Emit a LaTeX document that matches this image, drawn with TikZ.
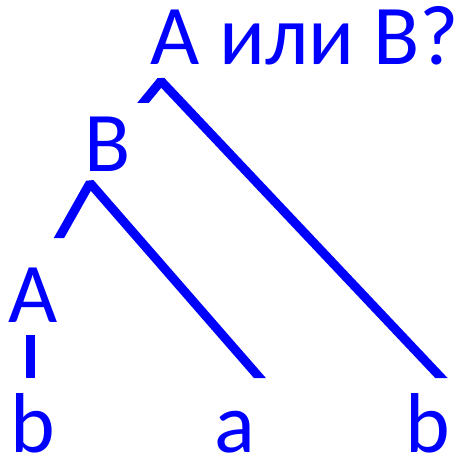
\documentclass[tikz,border=0pt]{standalone}
\usepackage{fontspec}
\setmainfont{Carlito}
\usetikzlibrary{positioning}

\begin{document}
\begin{tikzpicture}[
        x=1pt, y=-1pt,
        word/.style={text=blue, inner sep=0pt, anchor=base, font=\fontsize{85}{100}\selectfont},
        branch/.style={draw=blue, line width=9pt, line join=bevel}
    ]
        \useasboundingbox (0,0) rectangle (463,457);

        % labels
        \node[word] (question) at (305,65) {A или B?};
        \node[word] (nodeB) at (108,172) {B};
        \node[word] (nodeA) at (33,322) {A};
        \node[word] (leftb) at (33,452) {b};
        \node[word] (mida) at (235,452) {a};
        \node[word] (rightb) at (428,452) {b};

        % branch ends (drawn a bit long, cut level below)
        \coordinate (topapex) at (161,81);
        \coordinate (topstub) at (138,109);
        \coordinate (topend) at (448,385);
        \coordinate (midapex) at (90,183);
        \coordinate (midstub) at (55,245);
        \coordinate (midend) at (266,385);
        \coordinate (lowtop) at (30.5,335);
        \coordinate (lowend) at (30.5,378);

        \begin{scope}
            \clip (0,0) -- (463,0) -- (463,378) -- (152,378) -- (152,103) -- (0,103) -- cycle;
            \draw[branch] (topstub) -- (topapex) -- (topend);
        \end{scope}
        \begin{scope}
            \clip (0,0) -- (463,0) -- (463,378) -- (75,378) -- (75,238) -- (0,238) -- cycle;
            \draw[branch] (midstub) -- (midapex) -- (midend);
        \end{scope}
        \draw[branch] (lowtop) -- (lowend);
    \end{tikzpicture}
\end{document}
